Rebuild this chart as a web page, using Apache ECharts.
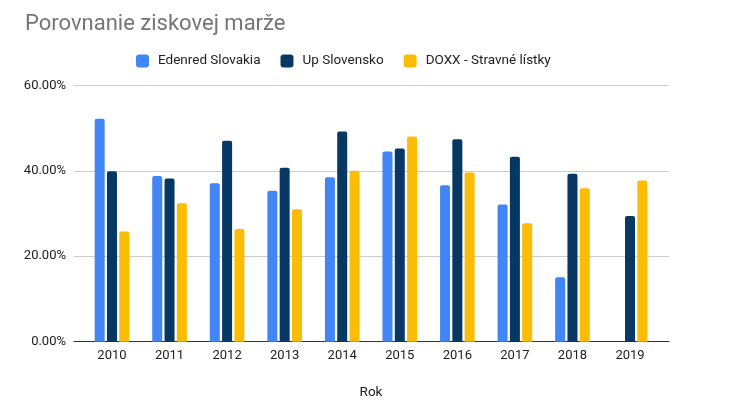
<!DOCTYPE html>
<html>
<head>
<meta charset="utf-8">
<script src="https://cdn.jsdelivr.net/npm/echarts@6/dist/echarts.min.js"></script>
<style>html,body{margin:0;padding:0;background:#fff}#c{width:744px;height:414px}</style>
</head>
<body>
<div id="c"></div>
<script>
const categories = ['2010','2011','2012','2013','2014','2015','2016','2017','2018','2019'];
const edenred = [52.2, 38.8, 37.1, 35.3, 38.5, 44.5, 36.6, 32.1, 15.1, null];
const upSlovensko = [39.9, 38.2, 47.0, 40.7, 49.2, 45.2, 47.4, 43.3, 39.3, 29.4];
const doxx = [25.8, 32.4, 26.4, 31.0, 40.0, 48.0, 39.6, 27.7, 35.9, 37.7];
const yTicks = [0, 20, 40, 60];
const seriesNames = ['Edenred Slovakia', 'Up Slovensko', 'DOXX - Stravné lístky'];

const font = 'Roboto, "Noto Sans", sans-serif';
const chart = echarts.init(document.getElementById('c'), null, {renderer: 'canvas'});
const mk = (name, data, color) => ({
  name, type: 'bar', data, xAxisIndex: 1, yAxisIndex: 1,
  barWidth: 10, barGap: '23%',
  itemStyle: {color, borderRadius: [2, 2, 0, 0]}
});
chart.setOption({
  animation: false,
  textStyle: {fontFamily: font},
  title: {
    text: 'Porovnanie ziskovej marže', left: 20, top: 8,
    textStyle: {fontFamily: font, fontSize: 22, fontWeight: 'normal', color: '#757575'}
  },
  legend: {
    data: seriesNames, left: 131, top: 49, itemWidth: 13, itemHeight: 13, itemGap: 20,
    icon: 'roundRect',
    textStyle: {fontFamily: font, fontSize: 13.5, color: '#222', padding: [0, 0, 0, 4]}
  },
  grid: [
    {left: 74, right: 75, top: 85.3, bottom: 72.3},
    {left: 83.2, right: 85.2, top: 85.3, bottom: 72.3}
  ],
  xAxis: [
    {gridIndex: 0, type: 'value', min: 0, max: 1, axisLabel: {show: false}, axisTick: {show: false},
     splitLine: {show: false}, axisLine: {show: true, onZero: false, lineStyle: {color: '#333', width: 1}}},
    {gridIndex: 1, type: 'category', data: categories, axisLine: {show: false}, axisTick: {show: false},
     axisLabel: {fontFamily: font, fontSize: 13, color: '#222', margin: 8},
     name: 'Rok', nameLocation: 'middle', nameGap: 44,
     nameTextStyle: {fontFamily: font, fontSize: 13.5, color: '#222'}}
  ],
  yAxis: [
    {gridIndex: 0, type: 'value', min: yTicks[0], max: yTicks[yTicks.length - 1], interval: 20,
     axisLine: {show: false}, axisTick: {show: false},
     axisLabel: {fontFamily: font, fontSize: 13, color: '#222', margin: 8, formatter: v => v.toFixed(2) + '%'},
     splitLine: {lineStyle: {color: '#cccccc', width: 1}}},
    {gridIndex: 1, type: 'value', min: yTicks[0], max: yTicks[yTicks.length - 1], interval: 20, show: false}
  ],
  series: [
    mk(seriesNames[0], edenred, '#4285F4'),
    mk(seriesNames[1], upSlovensko, '#073763'),
    mk(seriesNames[2], doxx, '#FBBC04')
  ]
});
</script>
</body>
</html>
